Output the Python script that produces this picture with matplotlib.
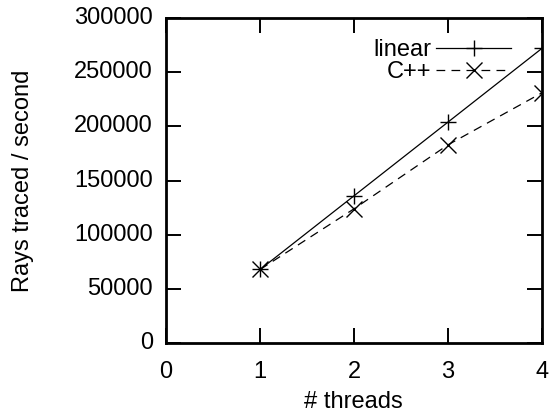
import matplotlib
matplotlib.use("Agg")
import matplotlib.pyplot as plt

plt.rcParams['font.family'] = ['Liberation Sans', 'DejaVu Sans']

# data
threads = [1, 2, 3, 4]
linear = [68000, 136000, 204000, 272000]
cpp = [68000, 124000, 183000, 231000]

FS = 17

fig = plt.figure(figsize=(5.52, 4.17), dpi=100)
ax = fig.add_axes([0.301, 0.177, 0.681, 0.780])

ax.plot(threads, linear, color='black', lw=0.9, marker='+', ms=12, mew=1.0,
        label='linear')
ax.plot(threads, cpp, color='black', lw=0.9, ls=(0, (7, 5)), marker='x',
        ms=12, mew=1.0, label='C++')

ax.set_xlim(0, 4)
ax.set_ylim(0, 300000)
ax.set_xticks([0, 1, 2, 3, 4])
ax.set_yticks(range(0, 300001, 50000))

ax.tick_params(direction='in', length=11, width=1.4, top=True, right=True)
ax.set_xticklabels([])
ax.set_yticklabels([])
for x in [0, 1, 2, 3, 4]:
    ax.text(x, -0.055, str(x), transform=ax.get_xaxis_transform(),
            ha='center', va='top', fontsize=FS)
for y in range(0, 300001, 50000):
    ax.text(-0.035, y, str(y), transform=ax.get_yaxis_transform(),
            ha='right', va='center', fontsize=FS)

for s in ax.spines.values():
    s.set_linewidth(2)

fig.text(0.641, 0.035, '# threads', ha='center', va='center', fontsize=FS)
fig.text(0.042, 0.566, 'Rays traced / second', ha='center', va='center',
         rotation=90, fontsize=FS)

ax.legend(loc='upper right', frameon=False, markerfirst=False,
          handlelength=3.2, fontsize=FS, labelspacing=0.0,
          borderaxespad=0.5, handletextpad=0.2,
          bbox_to_anchor=(0.975, 1.0))

fig.savefig('out.png', dpi=100)
